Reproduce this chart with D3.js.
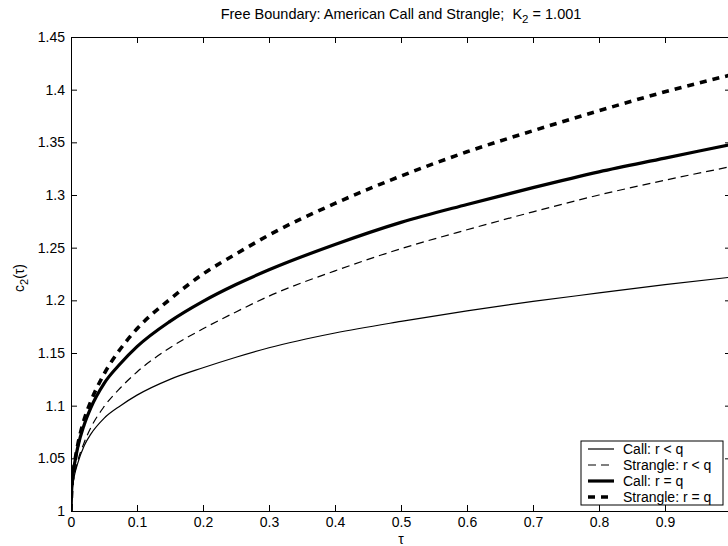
<!DOCTYPE html>
<html>
<head>
<meta charset="utf-8">
<script src="https://cdn.jsdelivr.net/npm/d3@7"></script>
<style>
  html, body { margin: 0; padding: 0; background: #fff; }
  svg { display: block; font-family: "Liberation Sans", Arial, Helvetica, sans-serif; }
</style>
</head>
<body>
<svg id="chart" width="728" height="546"></svg>
<script>
// ---- Data ----
const tau = [0, 0.001, 0.003, 0.006, 0.01, 0.02, 0.03, 0.05, 0.075, 0.1, 0.15, 0.2, 0.25, 0.3, 0.4, 0.5, 0.6, 0.7, 0.8, 0.9, 1.0];
const callRltQ     = [1.0, 1.014, 1.026, 1.036, 1.045, 1.062, 1.073, 1.088, 1.100, 1.110, 1.125, 1.136, 1.146, 1.155, 1.169, 1.180, 1.190, 1.199, 1.207, 1.215, 1.222];
const strangleRltQ = [1.0, 1.015, 1.026, 1.037, 1.047, 1.065, 1.079, 1.099, 1.117, 1.132, 1.155, 1.173, 1.189, 1.204, 1.228, 1.249, 1.267, 1.284, 1.300, 1.314, 1.327];
const callReqQ     = [1.0, 1.020, 1.035, 1.047, 1.060, 1.082, 1.098, 1.121, 1.140, 1.156, 1.180, 1.199, 1.215, 1.229, 1.253, 1.274, 1.291, 1.307, 1.322, 1.335, 1.348];
const strangleReqQ = [1.0, 1.020, 1.035, 1.048, 1.062, 1.087, 1.104, 1.130, 1.154, 1.173, 1.201, 1.225, 1.244, 1.262, 1.292, 1.318, 1.341, 1.361, 1.380, 1.398, 1.414];
const seriesNames  = ["Call: r < q", "Strangle: r < q", "Call: r = q", "Strangle: r = q"];
const xTicks = [0, 0.1, 0.2, 0.3, 0.4, 0.5, 0.6, 0.7, 0.8, 0.9, 1];
const yTicks = [1, 1.05, 1.1, 1.15, 1.2, 1.25, 1.3, 1.35, 1.4, 1.45];
// the label of the tick at 1 falls past the right edge of the picture
const xTickLabels = ["0", "0.1", "0.2", "0.3", "0.4", "0.5", "0.6", "0.7", "0.8", "0.9", ""];
const yTickLabels = ["1", "1.05", "1.1", "1.15", "1.2", "1.25", "1.3", "1.35", "1.4", "1.45"];

// ---- Layout ----
const svg = d3.select("#chart");
const L = 71, R = 731, T = 37, B = 511;
const FS = 14;
const x = d3.scaleLinear().domain([0, 1]).range([L, R]);
const y = d3.scaleLinear().domain([1, 1.45]).range([B, T]);

const styles = [
  { data: callRltQ,     width: 1.2, dash: null },
  { data: strangleRltQ, width: 1.2, dash: "8,5" },
  { data: callReqQ,     width: 3.2, dash: null },
  { data: strangleReqQ, width: 3.6, dash: "7,6" }
];

svg.append("defs").append("clipPath").attr("id", "clip")
  .append("rect").attr("x", L).attr("y", T).attr("width", R - L).attr("height", B - T);

// Axes (inward ticks on all sides)
const tickLen = 6;
const axB = svg.append("g").attr("transform", `translate(0,${B})`)
  .call(d3.axisBottom(x).tickValues(xTicks).tickSizeInner(-tickLen).tickSizeOuter(0).tickPadding(6)
    .tickFormat((d, i) => xTickLabels[i]));
const axT = svg.append("g").attr("transform", `translate(0,${T})`)
  .call(d3.axisTop(x).tickValues(xTicks).tickSizeInner(-tickLen).tickSizeOuter(0).tickFormat(""));
const axL = svg.append("g").attr("transform", `translate(${L},0)`)
  .call(d3.axisLeft(y).tickValues(yTicks).tickSizeInner(-tickLen).tickSizeOuter(0).tickPadding(6)
    .tickFormat((d, i) => yTickLabels[i]));
const axR = svg.append("g").attr("transform", `translate(${R},0)`)
  .call(d3.axisRight(y).tickValues(yTicks).tickSizeInner(-tickLen).tickSizeOuter(0).tickFormat(""));

[axB, axT, axL, axR].forEach(g => {
  g.selectAll("path.domain").attr("stroke", "#000").attr("stroke-width", 1);
  g.selectAll("line").attr("stroke", "#000").attr("stroke-width", 1);
  g.selectAll("text").attr("fill", "#000").attr("font-size", FS)
    .attr("font-family", "'Liberation Sans', Arial, sans-serif");
});

// Lines
const line = d3.line().x((d, i) => x(tau[i])).y(d => y(d)).curve(d3.curveMonotoneX);
const plot = svg.append("g").attr("clip-path", "url(#clip)");
styles.forEach(s => {
  plot.append("path").datum(s.data)
    .attr("fill", "none").attr("stroke", "#000")
    .attr("stroke-width", s.width)
    .attr("stroke-dasharray", s.dash)
    .attr("stroke-linejoin", "round")
    .attr("d", line);
});

// Title
const title = svg.append("text").attr("x", (L + R) / 2).attr("y", 19)
  .attr("text-anchor", "middle").attr("font-size", 14.5).attr("fill", "#000")
  .style("white-space", "pre");
title.append("tspan").text("Free Boundary: American Call and Strangle;  K");
title.append("tspan").attr("font-size", 11.5).attr("dy", 4).text("2");
title.append("tspan").attr("dy", -4).text(" = 1.001");

// Y label
const yl = svg.append("text").attr("transform", `translate(24,${(T + B) / 2 + 4}) rotate(-90)`)
  .attr("text-anchor", "middle").attr("font-size", 14).attr("fill", "#000");
yl.append("tspan").text("c");
yl.append("tspan").attr("font-size", 11).attr("dy", 4).text("2");
yl.append("tspan").attr("dy", -4).text("(τ)");

// X label
svg.append("text").attr("x", (L + R) / 2).attr("y", 544)
  .attr("text-anchor", "middle").attr("font-size", 14).attr("fill", "#000").text("τ");

// Legend
const lgX = 581, lgY = 441, lgW = 142, lgH = 64;
const lg = svg.append("g");
lg.append("rect").attr("x", lgX).attr("y", lgY).attr("width", lgW).attr("height", lgH)
  .attr("fill", "#fff").attr("stroke", "#000").attr("stroke-width", 1);
seriesNames.forEach((name, i) => {
  const yy = lgY + 8 + i * 16;
  lg.append("line").attr("x1", lgX + 7).attr("x2", lgX + 33).attr("y1", yy).attr("y2", yy)
    .attr("stroke", "#000").attr("stroke-width", styles[i].width)
    .attr("stroke-dasharray", styles[i].dash);
  lg.append("text").attr("x", lgX + 42).attr("y", yy + 5)
    .attr("font-size", 14).attr("fill", "#000").text(name);
});
</script>
</body>
</html>
